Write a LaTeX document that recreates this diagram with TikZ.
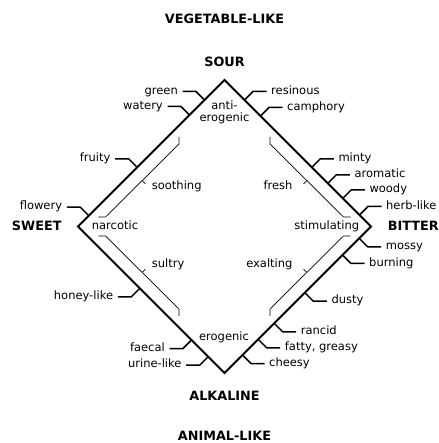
\documentclass[tikz,border=0pt]{standalone}
\usepackage{fontspec}
\setmainfont{DejaVu Sans}
\usepackage{tikz}

\tikzset{
	lbl/.style={font=\fontsize{11.5}{12.5}\selectfont, inner sep=0pt},
	term/.style={lbl, inner xsep=4.5pt},
	pole/.style={font=\bfseries\fontsize{12.8}{14}\selectfont, inner sep=0pt},
	rim/.style={line width=1.8pt, line join=miter},
	leader/.style={line width=1.5pt},
	brk/.style={line width=0.7pt}
}

\begin{document}
\begin{tikzpicture}[x=1pt,y=1pt]
		\useasboundingbox (-224.5,-216.5) rectangle (213.5,226.5);
		% the four poles
		\node[pole] (veg) at (0,207.8) {VEGETABLE-LIKE};
		\node[pole] (sour) at (0,164.8) {SOUR};
		\node[pole] (alk) at (0,-169.2) {ALKALINE};
		\node[pole] (anim) at (0,-209.3) {ANIMAL-LIKE};
		\node[pole, anchor=mid east] (sweet) at (-162.8,-0.8) {SWEET};
		\node[pole, anchor=mid west] (bitter) at (163.2,-0.8) {BITTER};
		% the square
		\coordinate (top) at (0,146.5);
		\coordinate (rgt) at (146.5,0);
		\coordinate (bot) at (0,-146.5);
		\coordinate (lft) at (-146.5,0);
		\draw[rim] (top) -- (rgt) -- (bot) -- (lft) -- cycle;
		% inner words
		\node[lbl, align=center] (anti) at (0,114.4) {anti-\\erogenic};
		\node[lbl, anchor=mid] (ero) at (-0.5,-110.8) {erogenic};
		\node[lbl, anchor=mid west] (narc) at (-132.8,0) {narcotic};
		\node[lbl, anchor=mid east] (stim) at (134.8,0) {stimulating};
		\node[lbl, anchor=mid west] (sooth) at (-72.8,39.8) {soothing};
		\node[lbl, anchor=mid east] (fresh) at (68.2,39.8) {fresh};
		\node[lbl, anchor=mid west] (sultry) at (-72.8,-38.5) {sultry};
		\node[lbl, anchor=mid east] (exalt) at (68.2,-38) {exalting};
		% brackets
		\draw[brk] (-126,9.5) -- (-119,9.5) -- (-45.5,82.5) -- (-45.5,89.5);
		\draw[brk] (-82.3,46) -- (-79.1,42.8);
		\draw[brk] (126,9.5) -- (119,9.5) -- (45.5,82.5) -- (45.5,89.5);
		\draw[brk] (82.3,46) -- (79.1,42.8);
		\draw[brk] (-126,-9.5) -- (-119,-9.5) -- (-45.5,-82.5) -- (-45.5,-89.5);
		\draw[brk] (-82.3,-46) -- (-79.1,-42.8);
		\draw[brk] (126,-9.5) -- (119,-9.5) -- (45.5,-82.5) -- (45.5,-89.5);
		\draw[brk] (82.3,-46) -- (79.1,-42.8);
		% upper left
		\coordinate (eGreen) at (-20,126.5);
		\node[term, anchor=mid east] (green) at (-42,135) {green};
		\draw[leader] (eGreen) -- ++(-8.5,8.5) -- (green.mid east);
		\coordinate (eWatery) at (-35,111.5);
		\node[term, anchor=mid east] (watery) at (-57,120) {watery};
		\draw[leader] (eWatery) -- ++(-8.5,8.5) -- (watery.mid east);
		\coordinate (eFruity) at (-87.3,59.2);
		\node[term, anchor=mid east] (fruity) at (-109.3,67.7) {fruity};
		\draw[leader] (eFruity) -- ++(-8.5,8.5) -- (fruity.mid east);
		\coordinate (eFlowery) at (-135.7,10.8);
		\node[term, anchor=mid east] (flowery) at (-157.7,19.3) {flowery};
		\draw[leader] (eFlowery) -- ++(-8.5,8.5) -- (flowery.mid east);
		% upper right
		\coordinate (eResin) at (20,126.5);
		\node[term, anchor=mid west] (resin) at (42,135) {resinous};
		\draw[leader] (eResin) -- ++(8.5,8.5) -- (resin.mid west);
		\coordinate (eCamph) at (36,110.5);
		\node[term, anchor=mid west] (camph) at (58,119) {camphory};
		\draw[leader] (eCamph) -- ++(8.5,8.5) -- (camph.mid west);
		\coordinate (eMinty) at (87.3,59.2);
		\node[term, anchor=mid west] (minty) at (109.3,67.7) {minty};
		\draw[leader] (eMinty) -- ++(8.5,8.5) -- (minty.mid west);
		\coordinate (eArom) at (103.3,43.2);
		\node[term, anchor=mid west] (arom) at (125.3,51.7) {aromatic};
		\draw[leader] (eArom) -- ++(8.5,8.5) -- (arom.mid west);
		\coordinate (eWoody) at (118.3,28.2);
		\node[term, anchor=mid west] (woody) at (140.3,36.7) {woody};
		\draw[leader] (eWoody) -- ++(8.5,8.5) -- (woody.mid west);
		\coordinate (eHerb) at (135,11.5);
		\node[term, anchor=mid west] (herb) at (157,20) {herb-like};
		\draw[leader] (eHerb) -- ++(8.5,8.5) -- (herb.mid west);
		% lower right
		\coordinate (eMossy) at (134.7,-11.8);
		\node[term, anchor=mid west] (mossy) at (156.7,-20.3) {mossy};
		\draw[leader] (eMossy) -- ++(8.5,-8.5) -- (mossy.mid west);
		\coordinate (eBurn) at (118,-28.5);
		\node[term, anchor=mid west] (burn) at (140,-37) {burning};
		\draw[leader] (eBurn) -- ++(8.5,-8.5) -- (burn.mid west);
		\coordinate (eDusty) at (80.3,-66.2);
		\node[term, anchor=mid west] (dusty) at (102.3,-74.7) {dusty};
		\draw[leader] (eDusty) -- ++(8.5,-8.5) -- (dusty.mid west);
		\coordinate (eRancid) at (49.7,-96.8);
		\node[term, anchor=mid west] (rancid) at (71.7,-105.3) {rancid};
		\draw[leader] (eRancid) -- ++(8.5,-8.5) -- (rancid.mid west);
		\coordinate (eFatty) at (33.7,-112.8);
		\node[term, anchor=mid west] (fatty) at (55.7,-121.3) {fatty, greasy};
		\draw[leader] (eFatty) -- ++(8.5,-8.5) -- (fatty.mid west);
		\coordinate (eCheesy) at (18,-128.5);
		\node[term, anchor=mid west] (cheesy) at (40,-137) {cheesy};
		\draw[leader] (eCheesy) -- ++(8.5,-8.5) -- (cheesy.mid west);
		% lower left
		\coordinate (eHoney) at (-84.7,-61.8);
		\node[term, anchor=mid east] (honey) at (-106.7,-70.3) {honey-like};
		\draw[leader] (eHoney) -- ++(-8.5,-8.5) -- (honey.mid east);
		\coordinate (eFaecal) at (-33,-113.5);
		\node[term, anchor=mid east] (faecal) at (-55,-122) {faecal};
		\draw[leader] (eFaecal) -- ++(-8.5,-8.5) -- (faecal.mid east);
		\coordinate (eUrine) at (-16.3,-130.2);
		\node[term, anchor=mid east] (urine) at (-38.3,-138.7) {urine-like};
		\draw[leader] (eUrine) -- ++(-8.5,-8.5) -- (urine.mid east);
	\end{tikzpicture}
\end{document}
